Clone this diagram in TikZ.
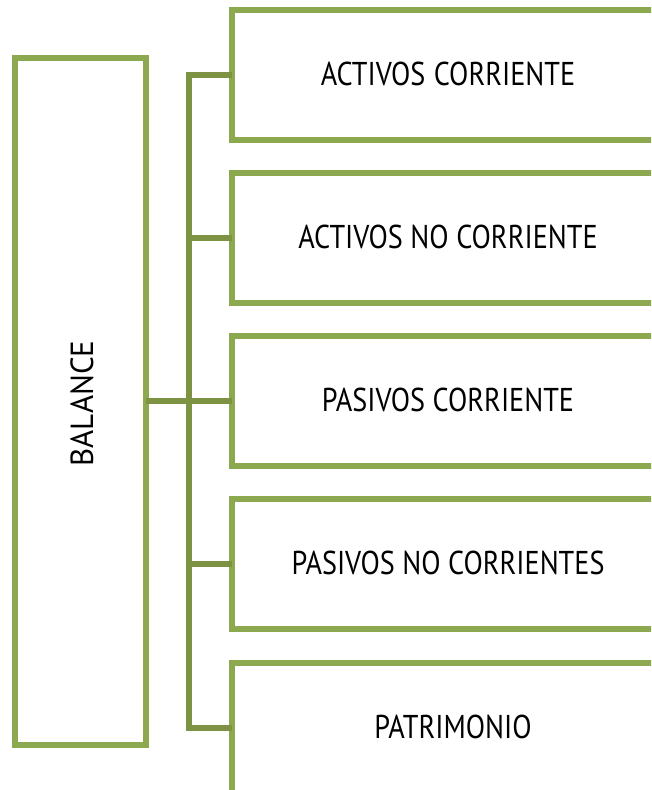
\documentclass[tikz,border=0pt]{standalone}
\usepackage{fontspec}
\setmainfont{PT Sans}
\definecolor{boxgreen}{RGB}{141,169,80}
\definecolor{lineg}{RGB}{125,146,67}
\newcommand{\cond}[1]{\scalebox{0.855}[1]{#1}}
\begin{document}
\begin{tikzpicture}[x=1pt,y=-1pt,
  boxst/.style={draw=boxgreen,line width=6pt,outer sep=0pt,inner sep=0pt,
    minimum width=432pt,minimum height=130pt,font=\fontsize{33}{38}\selectfont,text=black},
  conn/.style={draw=lineg,line width=6pt}]
\useasboundingbox (0,0) rectangle (651,790);
\clip (0,0) rectangle (651,790);
\node[draw=boxgreen,line width=6pt,outer sep=0pt,inner sep=0pt,minimum width=131pt,minimum height=687pt] (bal) at (80.5,401.5) {};
\node[font=\fontsize{32}{38}\selectfont,rotate=90,inner sep=0pt] (baltxt) at (82,403.5) {\scalebox{0.97}[1]{BALANCE}};
\node[boxst] (b1) at (448,75) {\raisebox{2pt}{\cond{ACTIVOS\hspace{0.3em}CORRIENTE}}};
\node[boxst] (b2) at (448,238) {\raisebox{2pt}{\cond{ACTIVOS NO CORRIENTE}}};
\node[boxst] (b3) at (448,401) {\raisebox{2pt}{\cond{PASIVOS CORRIENTE}}};
\node[boxst] (b4) at (448,564) {\raisebox{2pt}{\cond{PASIVOS NO CORRIENTES}}};
\node[boxst] (b5) at (448,728) {\hspace*{10pt}\raisebox{2pt}{\cond{PATRIMONIO}}};
\coordinate (s1) at (189,75);
\coordinate (s2) at (189,238);
\coordinate (s3) at (189,401);
\coordinate (s4) at (189,564);
\coordinate (s5) at (189,728);
\draw[conn,line join=miter] (b1.west) -- (s1) -- (s5) -- (b5.west);
\draw[conn] (s2) -- (b2.west);
\draw[conn] (s3) -- (b3.west);
\draw[conn] (s4) -- (b4.west);
\draw[conn] (bal.east |- s3) -- (s3);
\end{tikzpicture}
\end{document}
